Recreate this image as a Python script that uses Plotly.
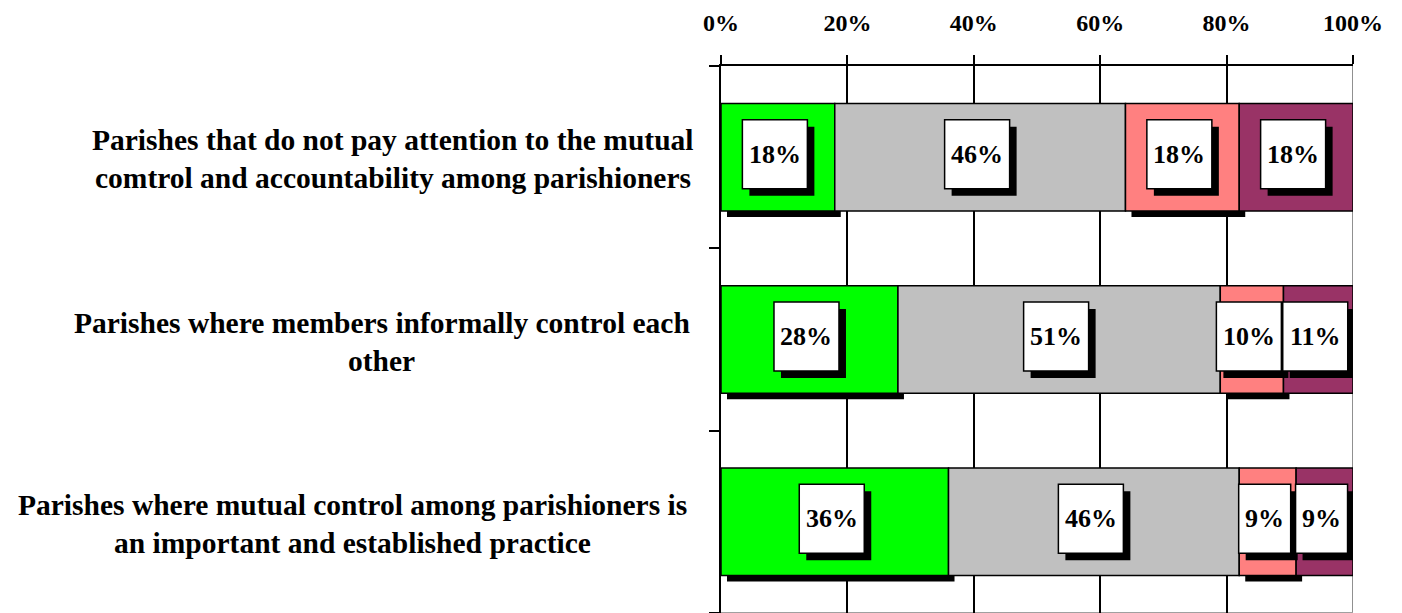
import plotly.graph_objects as go

categories = [
    ["Parishes that do not pay attention to the mutual",
     "comtrol and accountability among parishioners"],
    ["Parishes where members informally control each",
     "other"],
    ["Parishes where mutual control among parishioners is",
     "an important and established practice"],
]
series_names = ["S1", "S2", "S3", "S4"]
series_values = [
    [18, 28, 36],
    [46, 51, 46],
    [18, 10, 9],
    [18, 11, 9],
]
series_colors = ["#00FF00", "#C0C0C0", "#FF8080", "#993366"]
shadow_series = [0, 2]
tick_vals = [0, 20, 40, 60, 80, 100]
tick_text = ["0%", "20%", "40%", "60%", "80%", "100%"]
label_centers_px = [392.5, 381.5, 352.5]

FONT = "Liberation Serif"
VAL_SIZE = 26
W, H = 1402, 613
L, R, T, B = 721, 49, 66, 0
plot_w = W - L - R
plot_h = H - T - B
ypos = list(range(len(categories)))
bar_w = 0.59
dx = 6 / plot_w * 100
dy = 6 / (plot_h / 3)

# cumulative bases
bases = []
cum = [0] * len(categories)
for vals in series_values:
    bases.append(cum[:])
    cum = [c + v for c, v in zip(cum, vals)]

fig = go.Figure()

# bar shadows
for s in shadow_series:
    fig.add_trace(go.Bar(
        orientation="h", y=[p + dy for p in ypos], x=series_values[s],
        base=[b + dx for b in bases[s]], width=bar_w,
        marker=dict(color="black", line=dict(width=0)),
        showlegend=False, hoverinfo="skip"))

for s, vals in enumerate(series_values):
    fig.add_trace(go.Bar(
        orientation="h", y=ypos, x=vals, base=bases[s], width=bar_w,
        name=series_names[s],
        marker=dict(color=series_colors[s], line=dict(color="black", width=1.5)),
        showlegend=False))

annotations = []
shapes = []
box_h = 69
sx, sy = -3, 3      # box offset from segment centre (px)
sh = 7              # shadow offset (px)
for shadow in (True, False):
    for s, vals in enumerate(series_values):
        for i, v in enumerate(vals):
            txt = "%d%%" % v
            bw = 13 + VAL_SIZE * (0.5 * (len(txt) - 1) + 1.0)
            off_x = sh if shadow else 0
            off_y = -sh if shadow else 0
            shapes.append(dict(
                type="rect", xref="x", yref="y",
                xsizemode="pixel", ysizemode="pixel",
                xanchor=bases[s][i] + v / 2, yanchor=ypos[i],
                x0=sx - bw / 2 + off_x, x1=sx + bw / 2 + off_x,
                y0=sy - box_h / 2 + off_y, y1=sy + box_h / 2 + off_y,
                fillcolor="black" if shadow else "white",
                line=dict(color="black", width=0 if shadow else 1.5),
                layer="above"))

for s, vals in enumerate(series_values):
    for i, v in enumerate(vals):
        annotations.append(dict(
            x=bases[s][i] + v / 2, y=ypos[i], xref="x", yref="y",
            text="<b>%d%%</b>" % v, showarrow=False,
            font=dict(family=FONT, size=VAL_SIZE, color="black"),
            xshift=sx, yshift=sy))

# category labels
for i, lines in enumerate(categories):
    cx = (label_centers_px[i] - L) / plot_w
    for j, line in enumerate(lines):
        annotations.append(dict(
            x=cx, y=ypos[i], xref="paper", yref="y",
            text="<b>%s</b>" % line, showarrow=False,
            xanchor="center", yanchor="middle",
            font=dict(family=FONT, size=29.5, color="black"),
            yshift=17 if j == 0 else -21,
        ))

shapes = [
    dict(type="line", xref="x", yref="paper", x0=100, x1=100, y0=0, y1=1,
         line=dict(color="#909090", width=2), layer="below"),
    dict(type="line", xref="paper", yref="paper", x0=0, x1=1, y0=0, y1=0,
         line=dict(color="#A0A0A0", width=2), layer="below"),
] + shapes

fig.update_layout(
    width=W, height=H,
    margin=dict(l=L, r=R, t=T, b=B, pad=0),
    plot_bgcolor="white", paper_bgcolor="white",
    barmode="overlay",
    annotations=annotations,
    shapes=shapes,
    xaxis=dict(
        side="top", range=[0, 100], tickvals=tick_vals, ticktext=tick_text,
        showgrid=True, gridcolor="black", gridwidth=1.5,
        showline=True, linecolor="black", linewidth=2,
        ticks="outside", ticklen=9, tickwidth=2, tickcolor="black",
        ticklabelstandoff=14,
        tickfont=dict(family=FONT, size=24, color="black", weight="bold"),
        zeroline=False, fixedrange=True,
    ),
    yaxis=dict(
        range=[2.5, -0.5], tickvals=[-0.5, 0.5, 1.5, 2.5], showticklabels=False,
        showgrid=False, zeroline=False,
        showline=True, linecolor="black", linewidth=2,
        ticks="outside", ticklen=10, tickwidth=2, tickcolor="black",
        fixedrange=True,
    ),
)

fig.write_html("out.html", config={"displayModeBar": False},
               post_script="document.body.style.margin='0px';")
